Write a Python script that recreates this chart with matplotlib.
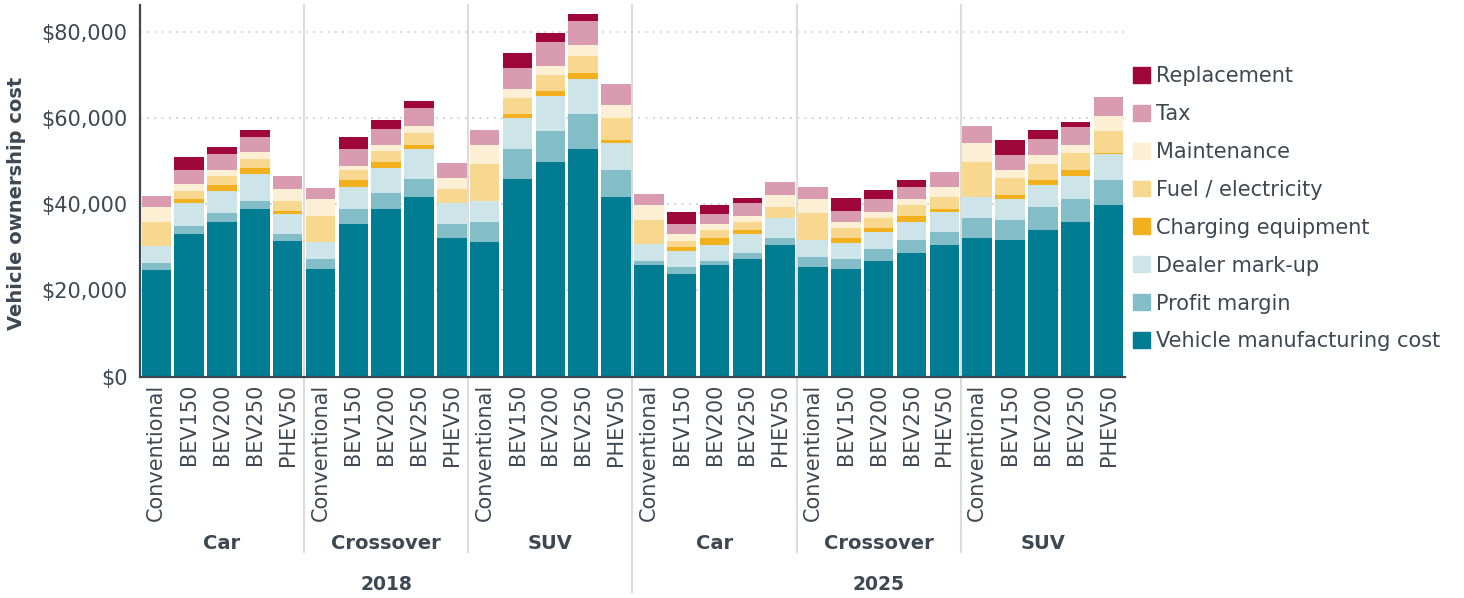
import matplotlib
matplotlib.use("Agg")
import matplotlib.pyplot as plt
from matplotlib.patches import Patch
from matplotlib.ticker import FuncFormatter

plt.rcParams['font.family'] = ['DejaVu Sans']

years = ["2018", "2025"]
classes = ["Car", "Crossover", "SUV"]
techs = ["Conventional", "BEV150", "BEV200", "BEV250", "PHEV50"]

# one value per bar, order: 2018 Car, Crossover, SUV, then 2025 Car, Crossover, SUV
manufacturing = [24700, 33100, 35900, 38900, 31500,
                 25000, 35400, 38900, 41700, 32200,
                 31200, 45800, 49800, 52800, 41700,
                 25900, 23800, 25900, 27300, 30500,
                 25400, 25000, 26800, 28700, 30500,
                 32200, 31700, 34000, 35900, 39800]
profit = [1600, 1900, 2100, 1900, 1600,
          2300, 3500, 3700, 4200, 3200,
          4600, 7000, 7200, 8100, 6300,
          900, 1600, 900, 1400, 1600,
          2300, 2300, 2800, 3000, 3000,
          4600, 4600, 5300, 5300, 5800]
dealer = [4000, 5300, 5100, 6300, 4600,
          4000, 5100, 5800, 7000, 4900,
          4900, 7200, 8100, 8100, 6300,
          3900, 3700, 3700, 4400, 4600,
          3900, 3700, 3900, 4200, 4600,
          4900, 4900, 5100, 5300, 6000]
charging = [0, 900, 1400, 1400, 700,
            0, 1600, 1400, 900, 0,
            0, 900, 1200, 1400, 500,
            0, 900, 1600, 900, 0,
            0, 1200, 900, 1400, 700,
            0, 900, 1200, 1400, 200]
fuel = [5500, 1900, 2100, 1900, 2300,
        6000, 2300, 2600, 2800, 3200,
        8600, 3700, 3700, 3900, 5300,
        5600, 1400, 1900, 1900, 2600,
        6300, 2300, 2300, 2600, 2800,
        8100, 3900, 3700, 3900, 5100]
maintenance = [3500, 1600, 1400, 1600, 2800,
               3900, 900, 1400, 1600, 2600,
               4400, 2100, 2100, 2600, 2800,
               3500, 1600, 1400, 1400, 2800,
               3200, 1400, 1600, 1400, 2300,
               4400, 1900, 2100, 1900, 3500]
tax = [2600, 3200, 3700, 3700, 3000,
       2600, 3900, 3700, 4200, 3500,
       3500, 4900, 5600, 5600, 4900,
       2600, 2300, 2300, 3000, 3000,
       3000, 2600, 2800, 2800, 3500,
       3900, 3500, 3700, 4200, 4400]
replacement = [0, 3000, 1600, 1600, 0,
               0, 3000, 2100, 1600, 0,
               0, 3500, 2100, 1600, 0,
               0, 3000, 2100, 1200, 0,
               0, 3000, 2100, 1600, 0,
               0, 3500, 2100, 1200, 0]

components = [
    ("Vehicle manufacturing cost", manufacturing, "#007d92"),
    ("Profit margin", profit, "#83bdc8"),
    ("Dealer mark-up", dealer, "#cde5e8"),
    ("Charging equipment", charging, "#f2b01f"),
    ("Fuel / electricity", fuel, "#f8d78e"),
    ("Maintenance", maintenance, "#fdefd4"),
    ("Tax", tax, "#d99bb0"),
    ("Replacement", replacement, "#9f063a"),
]

text_c = "#3d4852"
fig = plt.figure(figsize=(14.64, 5.98), dpi=100)
ax = fig.add_axes([0.0956, 0.3701, 0.6728, 0.6215])

n = len(years) * len(classes) * len(techs)
xs = list(range(n))
bottom = [0] * n
for name, vals, col in components:
    ax.bar(xs, vals, bottom=bottom, width=0.9, color=col, label=name, zorder=2)
    bottom = [b + v for b, v in zip(bottom, vals)]

ax.set_xlim(-0.5, n - 0.5)
ax.set_ylim(0, 86200)
ax.set_yticks([0, 20000, 40000, 60000, 80000])
ax.yaxis.set_major_formatter(FuncFormatter(lambda v, p: "${:,.0f}".format(v)))
ax.grid(axis='y', linestyle=(0, (1, 3)), color="#cfcfcf", linewidth=1.3, zorder=0)
ax.tick_params(axis='y', length=0, pad=9, labelsize=15, labelcolor=text_c)
ax.set_xticks(xs)
ax.set_xticklabels(techs * (len(years) * len(classes)), rotation=90)
ax.tick_params(axis='x', length=0, pad=5, labelsize=15, labelcolor=text_c)
for s in ["top", "right"]:
    ax.spines[s].set_visible(False)
for s in ["left", "bottom"]:
    ax.spines[s].set_color(text_c)
    ax.spines[s].set_linewidth(1.6)
ax.set_ylabel("Vehicle ownership cost", fontsize=14, fontweight='bold', color=text_c)
ax.yaxis.set_label_coords(-0.116, 0.467)

# group separators and labels
trans = ax.get_xaxis_transform()
ntech = len(techs)
for g in range(1, len(years) * len(classes)):
    xsep = g * ntech - 0.5
    ybot = -0.579 if g % len(classes) == 0 else -0.472
    ax.plot([xsep, xsep], [1, ybot], transform=trans, color="#dcdcdc",
            linewidth=1.5, clip_on=False, zorder=1)
for yi, yr in enumerate(years):
    for ci, cl in enumerate(classes):
        g = yi * len(classes) + ci
        ax.text(g * ntech + (ntech - 1) / 2, -0.45, cl, transform=trans, ha='center',
                va='center', fontsize=14, fontweight='bold', color=text_c)
    ax.text(yi * len(classes) * ntech + (len(classes) * ntech - 1) / 2, -0.558, yr,
            transform=trans, ha='center', va='center', fontsize=13.5,
            fontweight='bold', color=text_c)

handles = [Patch(color=col, label=name) for name, vals, col in components][::-1]
ax.legend(handles=handles, loc='upper left', bbox_to_anchor=(1133 / 1464, (598 - 66) / 598),
          bbox_transform=fig.transFigure, frameon=False, fontsize=15, labelcolor=text_c,
          handlelength=0.8, handleheight=0.8, handletextpad=0.3, labelspacing=0.86,
          borderpad=0, borderaxespad=0)

fig.savefig("out.png", dpi=100)
